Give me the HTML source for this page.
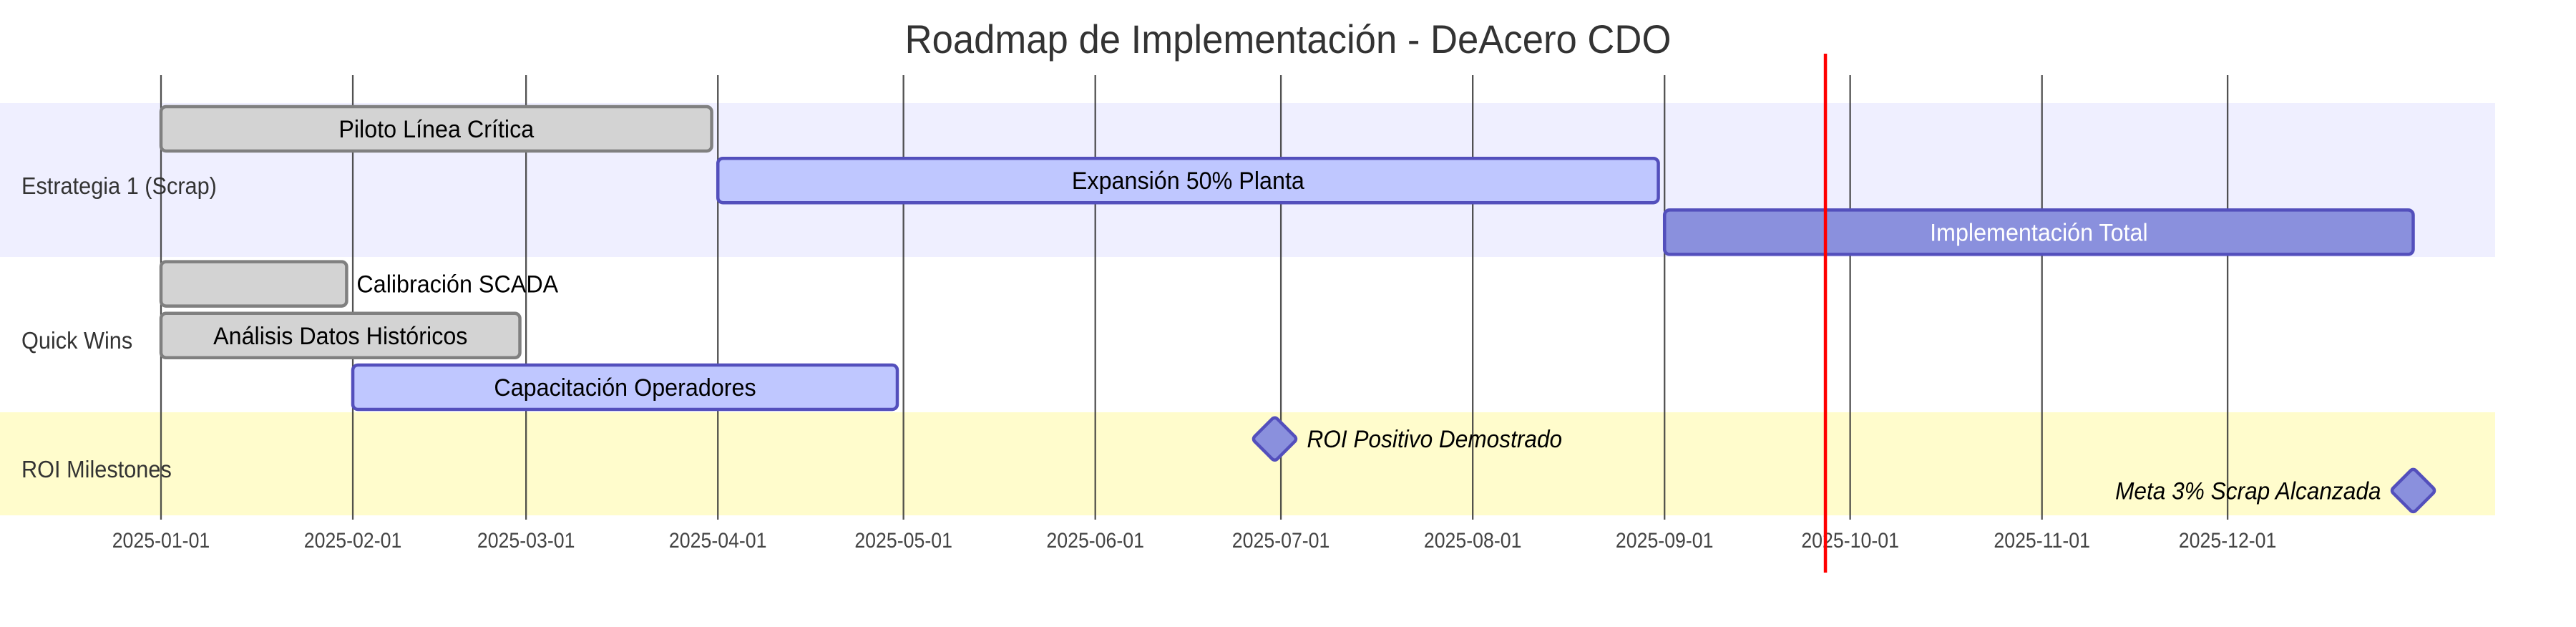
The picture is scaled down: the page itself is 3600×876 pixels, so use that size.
<!DOCTYPE html>
<html><head><meta charset="utf-8">
<style>
html,body{margin:0;padding:0;background:#fff;}
svg{display:block;font-family:"Liberation Sans","DejaVu Sans",sans-serif;}
</style></head>
<body>
<svg id="chart" width="3600" height="876" viewBox="0 0 3600 876">
  <text x="1800" y="74" text-anchor="middle" font-size="56" fill="#333" class="cond" data-f="0.94">Roadmap de Implementación - DeAcero CDO</text>
  <g id="bands"></g>
  <g id="grid"></g>
  <g id="ticks"></g>
  <g id="tasks"></g>
  <g id="labels"></g>
  <g id="today"></g>
</svg>
<script>
const sectionNames = ["Estrategia 1 (Scrap)", "Quick Wins", "ROI Milestones"];
const sectionFills = ["#efefff", "#ffffff", "#fffccc"];
const tickLabels = ["2025-01-01","2025-02-01","2025-03-01","2025-04-01","2025-05-01","2025-06-01","2025-07-01","2025-08-01","2025-09-01","2025-10-01","2025-11-01","2025-12-01"];
const taskNames = ["Piloto Línea Crítica","Expansión 50% Planta","Implementación Total","Calibración SCADA","Análisis Datos Históricos","Capacitación Operadores","ROI Positivo Demostrado","Meta 3% Scrap Alcanzada"];
const taskSection = [0,0,0,1,1,1,2,2];
const taskStart = ["2025-01-01","2025-04-01","2025-09-01","2025-01-01","2025-01-01","2025-02-01","2025-06-30","2025-12-31"];
const taskEnd = ["2025-03-31","2025-08-31","2025-12-31","2025-01-31","2025-02-28","2025-04-30","2025-06-30","2025-12-31"];
const taskStatus = ["done","active","normal","done","done","active","milestone","milestone"];
const todayDate = "2025-09-27";

const NS="http://www.w3.org/2000/svg";
const X0=225, PXDAY=8.647, ORIGIN=Date.UTC(2025,0,1);
function xScale(d){const p=d.split('-').map(Number);return X0+(Date.UTC(p[0],p[1]-1,p[2])-ORIGIN)/86400000*PXDAY;}
function mk(tag,attrs,parent){const e=document.createElementNS(NS,tag);for(const k in attrs)e.setAttribute(k,attrs[k]);parent.appendChild(e);return e;}
const rowTop=149, rowStep=72.2, barH=62;
const bandY=[144,359,576], bandH=[215,217,144];

const bands=document.getElementById('bands');
sectionNames.forEach((s,i)=>{
  const r=mk('rect',{x:0,y:bandY[i],width:3487,height:bandH[i],fill:sectionFills[i]},bands);
  
  
});
const grid=document.getElementById('grid'), ticks=document.getElementById('ticks');
tickLabels.forEach(t=>{
  const x=xScale(t);
  const l=mk('line',{x1:x,x2:x,y1:105,y2:726,stroke:'#333','stroke-width':2.3,'stroke-opacity':0.85},grid);
  
  
  const tx=mk('text',{x:x,y:765,'text-anchor':'middle','font-size':30,fill:'#444',class:'cond','data-f':0.89},ticks);
  tx.textContent=t;
  
  
});
const tasks=document.getElementById('tasks'), labels=document.getElementById('labels');
const styles={done:{fill:'#d3d3d3',stroke:'#808080',tc:'#000'},active:{fill:'#bfc7ff',stroke:'#534fbc',tc:'#000'},normal:{fill:'#8a90dd',stroke:'#534fbc',tc:'#fff'},milestone:{fill:'#8a90dd',stroke:'#534fbc',tc:'#000'}};
taskNames.forEach((n,i)=>{
  const st=styles[taskStatus[i]];
  const y=rowTop+i*rowStep, cy=y+barH/2;
  const x1=xScale(taskStart[i]), x2=xScale(taskEnd[i]);
  if(taskStatus[i]==='milestone'){
    const h=31;
    const p=mk('rect',{x:x1-h*0.72,y:cy-h*0.72,width:h*1.44,height:h*1.44,rx:5,fill:st.fill,stroke:st.stroke,'stroke-width':4.5,transform:`rotate(45 ${x1} ${cy})`},tasks);
    
    
    const after=x1+45<3100;
    const t=mk('text',{x:after?x1+45:x1-45,y:cy+12,'text-anchor':after?'start':'end','font-size':34,'font-style':'italic',fill:'#000',class:'cond','data-f':0.93},labels);
    t.textContent=n;
    
    
    return;
  }
  const r=mk('rect',{x:x1,y:y,width:x2-x1,height:barH,rx:7,fill:st.fill,stroke:st.stroke,'stroke-width':4.5},tasks);
  
  
  const t=mk('text',{y:cy+12,'font-size':34,fill:st.tc,class:'cond','data-f':0.95},labels);
  t.textContent=n;
  
  
  t.dataset.x1=x1;t.dataset.x2=x2;
});
sectionNames.forEach((s,i)=>{
  const ys=[271,487,667];
  const t=mk('text',{x:30,y:ys[i],'font-size':33,fill:'#333',class:'cond','data-f':0.93},labels);
  t.textContent=s;
  
  
});
const tx=xScale(todayDate);
const tl=mk('line',{x1:tx,x2:tx,y1:75,y2:800,stroke:'#ff0000','stroke-width':4.5},document.getElementById('today'));



document.querySelectorAll('text.cond').forEach(t=>{
  const w=t.getComputedTextLength();
  const f=parseFloat(t.getAttribute('data-f')||'0.9');
  t.setAttribute('textLength',(w*f).toFixed(1));
  t.setAttribute('lengthAdjust','spacingAndGlyphs');
});
document.querySelectorAll('text[data-x1]').forEach(t=>{
  const x1=+t.dataset.x1,x2=+t.dataset.x2;
  const w=+t.getAttribute('textLength');
  if(w+20<x2-x1){t.setAttribute('x',(x1+x2)/2);t.setAttribute('text-anchor','middle');}
  else{t.setAttribute('x',x2+14);t.setAttribute('text-anchor','start');}
});
</script>
</body></html>
